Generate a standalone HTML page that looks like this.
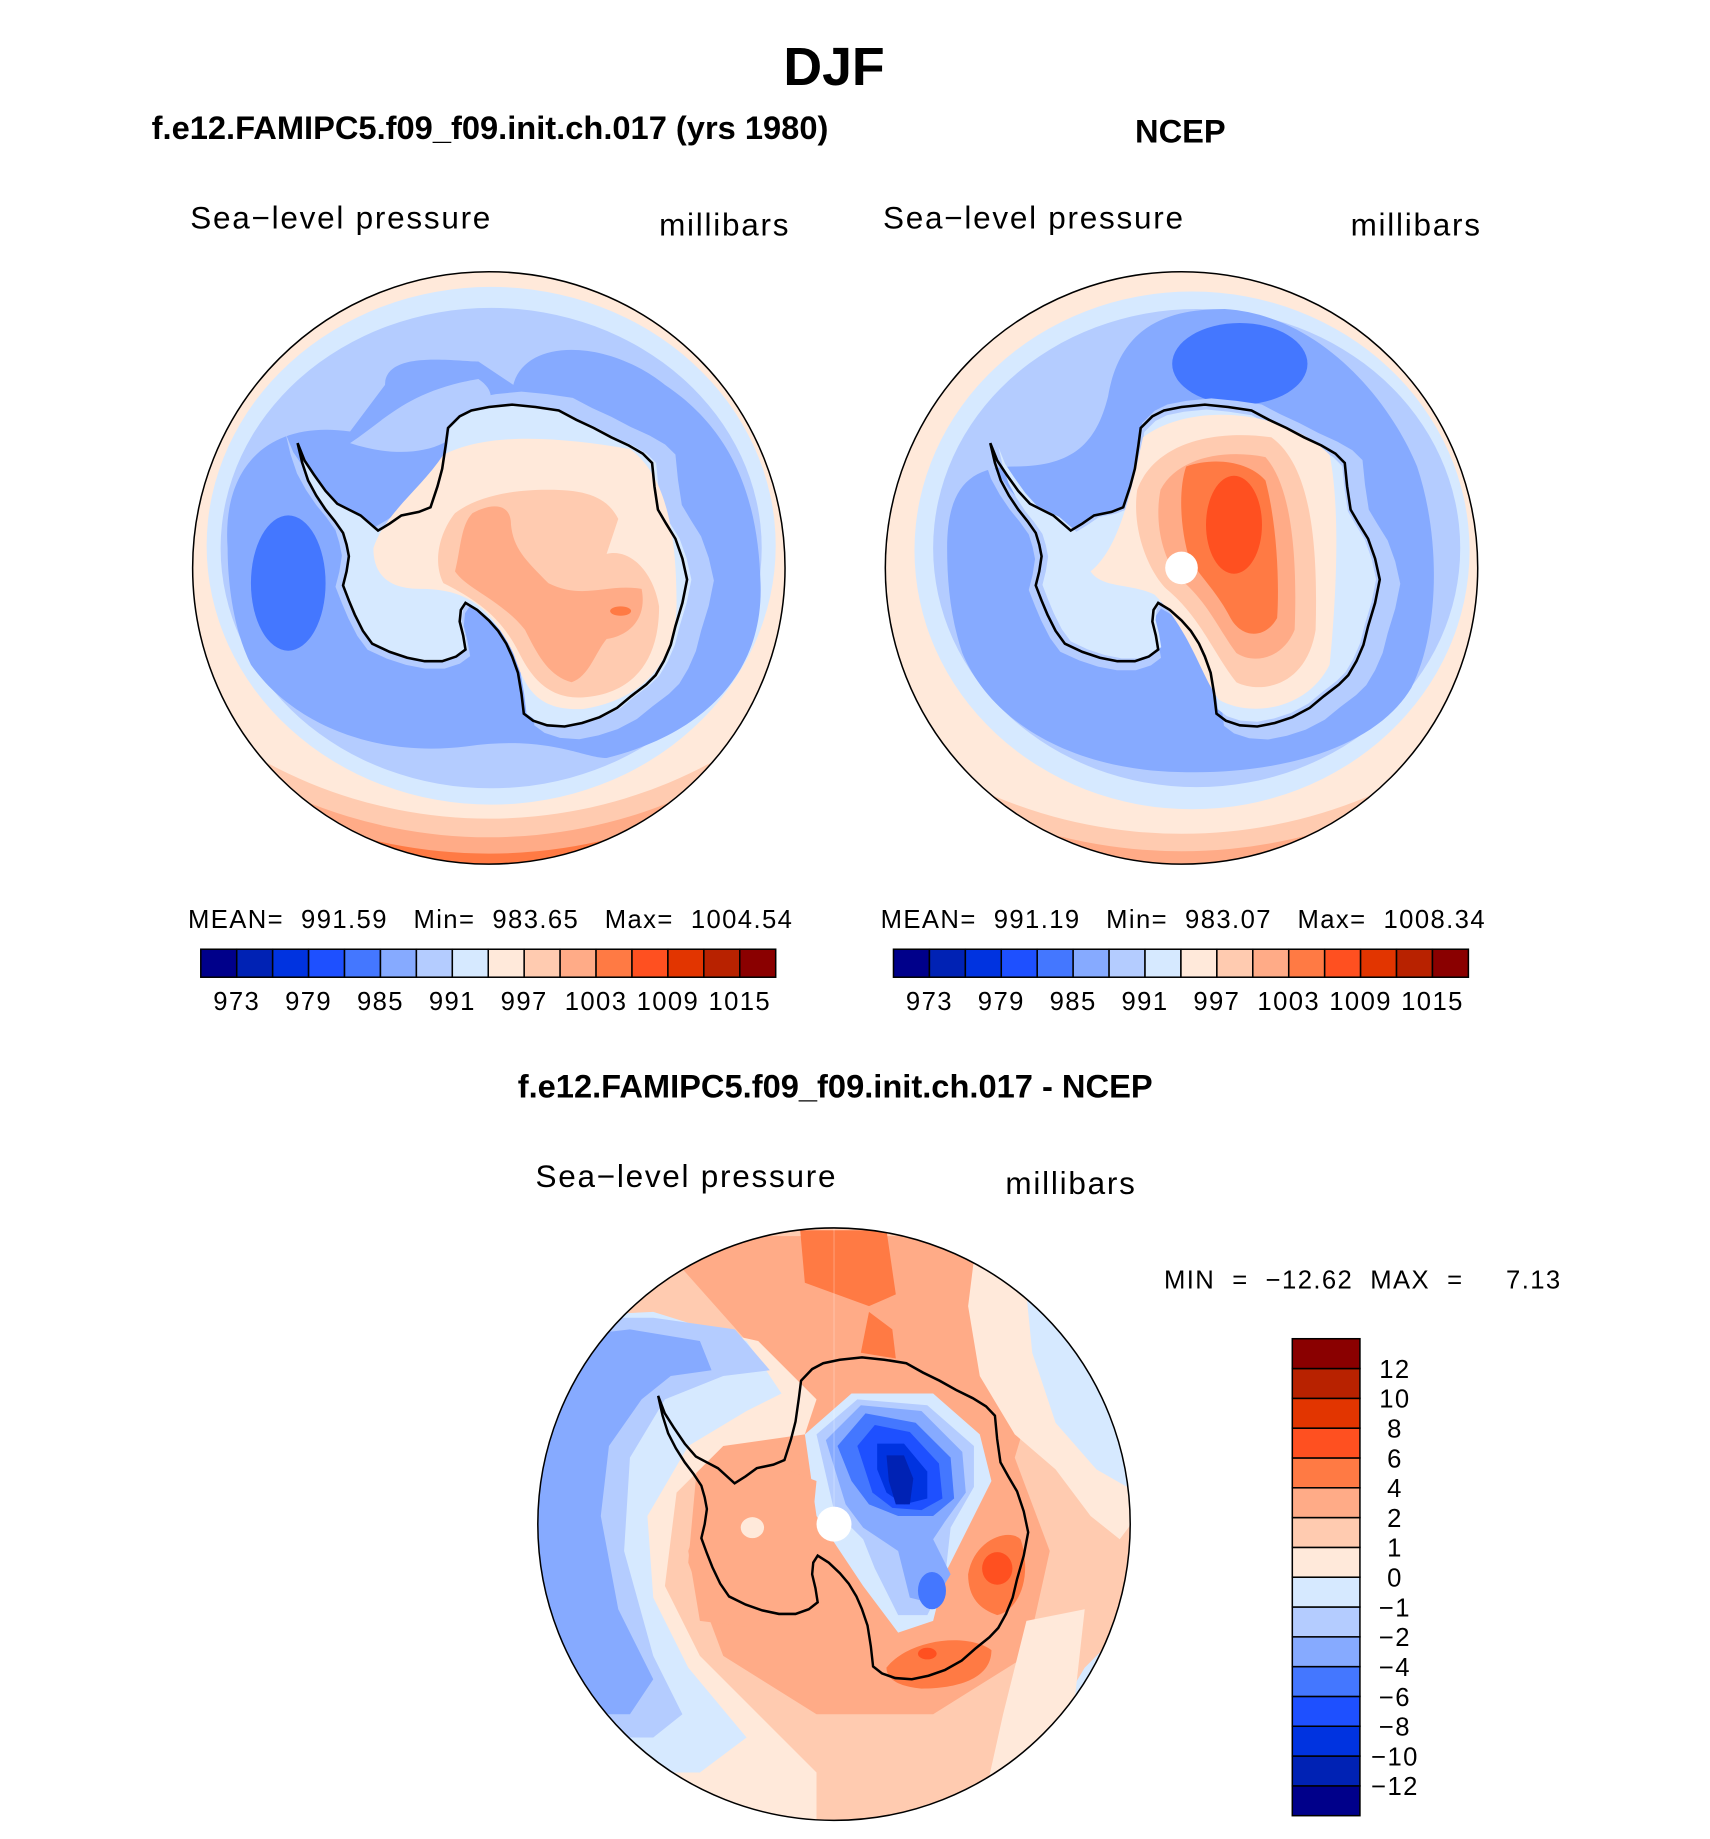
<!DOCTYPE html>
<html><head><meta charset="utf-8"><style>
html,body{margin:0;padding:0;background:#fff}
svg{display:block}
text{font-family:"Liberation Sans",sans-serif;fill:#000;white-space:pre}
.t{font-size:27px;letter-spacing:1.5px}
.s{font-size:22px;letter-spacing:1.2px}
.b{font-weight:bold}
</style></head><body>
<svg id="fig" width="1710" height="1839" viewBox="0 0 1466 1577" xmlns="http://www.w3.org/2000/svg" xml:space="preserve">
<defs>
<path id="coast" d="M-164,-107 L-158,-92 L-150,-80 L-140,-66 L-130,-55 L-120,-50 L-110,-45 L-95,-32 L-85,-38 L-75,-45 L-60,-48 L-50,-52 L-44,-70 L-40,-85 L-37,-105 L-35,-120 L-25,-130 L-15,-135 L0,-138 L20,-140 L40,-138 L60,-135 L75,-127 L90,-120 L105,-112 L120,-105 L132,-98 L140,-90 L142,-70 L145,-50 L152,-38 L160,-25 L166,-8 L170,10 L166,30 L160,50 L156,66 L150,80 L143,92 L135,100 L122,110 L110,120 L95,128 L80,133 L65,136 L50,135 L38,131 L30,125 L28,108 L25,90 L20,76 L15,65 L8,54 L0,45 L-10,36 L-20,30 L-24,36 L-25,46 L-22,58 L-20,70 L-28,76 L-40,80 L-55,80 L-70,77 L-85,72 L-100,65 L-108,54 L-115,40 L-120,28 L-125,15 L-122,3 L-120,-10 L-122,-20 L-125,-30 L-132,-40 L-140,-50 L-148,-62 L-155,-75 L-160,-90 Z"/>
<clipPath id="cl1"><circle cx="419" cy="487" r="254"/></clipPath>
<clipPath id="cl2"><circle cx="1013" cy="487" r="254"/></clipPath>
<clipPath id="cl3"><circle cx="715" cy="1307" r="254"/></clipPath>
</defs>

<text x="715" y="73" text-anchor="middle" class="b" font-size="46">DJF</text>
<text x="420" y="119" text-anchor="middle" class="b" font-size="28">f.e12.FAMIPC5.f09_f09.init.ch.017 (yrs 1980)</text>
<text x="1012" y="122" text-anchor="middle" class="b" font-size="28">NCEP</text>

<!-- LEFT MAP -->
<text x="163" y="196" class="t">Sea−level pressure</text>
<text x="565" y="202" class="t">millibars</text>
<g clip-path="url(#cl1)">
<rect x="160" y="230" width="520" height="520" fill="#ff7a44"/>
<circle cx="419" cy="300" r="432" fill="#ffab87"/>
<circle cx="419" cy="300" r="418" fill="#ffcbb0"/>
<circle cx="419" cy="300" r="402" fill="#ffe9da"/>
<ellipse cx="421" cy="468" rx="244" ry="222" fill="#d6e9ff"/>
<ellipse cx="421" cy="470" rx="232" ry="206" fill="#b4ccff"/>
<path d="M195,470 C190,400 230,360 300,370 L330,330 C330,300 390,310 410,310 L440,330 C450,290 520,290 570,330 C630,370 650,430 652,500 C655,580 600,630 520,650 C500,650 470,630 400,640 C320,650 250,620 215,570 C200,540 195,500 195,470 Z" fill="#86aaff"/>
<path d="M300,380 C330,360 350,335 410,325 C440,345 400,370 380,380 C360,390 330,390 300,380 Z" fill="#b4ccff"/>
<ellipse cx="247" cy="500" rx="32" ry="58" fill="#4477ff"/>
<use href="#coast" fill="#b4ccff" transform="translate(425,487) scale(1.1,1.08)"/>
<use href="#coast" fill="#d6e9ff" transform="translate(421,487) scale(1.01,1.0)"/>
<path d="M320,470 C330,440 360,420 380,390 C420,370 480,375 540,385 C575,410 580,470 580,520 C578,570 550,600 500,608 C460,610 450,590 440,560 C420,520 400,505 360,505 C330,505 320,490 320,470 Z" fill="#ffe9da"/>
<path d="M390,440 C410,425 440,420 470,420 C500,420 520,425 530,445 L520,475 C540,470 560,490 565,520 C565,570 540,595 500,598 C470,600 455,580 445,560 C430,530 410,515 380,500 C370,480 378,455 390,440 Z" fill="#ffcbb0"/>
<path d="M405,440 C420,432 438,430 438,450 C440,470 450,480 470,500 C500,515 520,500 550,505 C555,530 540,545 520,548 C510,560 505,580 490,585 C470,580 460,560 450,540 C430,515 400,505 390,490 C395,470 395,450 405,440 Z" fill="#ffab87"/>
<ellipse cx="532" cy="524" rx="9" ry="4" fill="#ff7a44"/>
<use href="#coast" fill="none" stroke="#000" stroke-width="2.2" transform="translate(419,487)"/>
</g>
<circle cx="419" cy="487" r="254" fill="none" stroke="#000" stroke-width="1.3"/>
<text x="161" y="796" class="s">MEAN=  991.59   Min=  983.65   Max=  1004.54</text>
<g id="cbL"></g>

<!-- RIGHT MAP -->
<text x="757" y="196" class="t">Sea−level pressure</text>
<text x="1158" y="202" class="t">millibars</text>
<g clip-path="url(#cl2)">
<rect x="750" y="230" width="520" height="520" fill="#ffab87"/>
<circle cx="1013" cy="300" r="430" fill="#ffcbb0"/>
<circle cx="1013" cy="300" r="415" fill="#ffe9da"/>
<ellipse cx="1022" cy="472" rx="238" ry="222" fill="#d6e9ff"/>
<ellipse cx="1026" cy="470" rx="226" ry="205" fill="#b4ccff"/>
<path d="M812,470 C812,420 830,400 870,400 C920,400 940,380 950,340 C960,280 1000,265 1050,265 C1130,270 1190,340 1215,400 C1235,460 1235,540 1210,590 C1180,640 1100,665 1010,662 C920,660 850,620 825,560 C815,530 812,500 812,470 Z" fill="#86aaff"/>
<ellipse cx="1063" cy="312" rx="58" ry="35" fill="#4477ff"/>
<use href="#coast" fill="#b4ccff" transform="translate(1017,490) scale(1.08,1.06)"/>
<use href="#coast" fill="#d6e9ff" transform="translate(1015,487) scale(0.97,0.97)"/>
<path d="M935,490 C960,470 970,420 980,375 C1020,345 1100,350 1140,390 C1150,440 1145,520 1140,570 C1120,610 1070,615 1045,600 C1030,580 1020,540 990,510 C970,500 945,505 935,490 Z" fill="#ffe9da"/>
<path d="M975,420 C990,380 1040,368 1090,375 C1125,400 1130,470 1128,540 C1120,590 1080,595 1060,585 C1040,560 1030,530 1000,505 C985,490 970,455 975,420 Z" fill="#ffcbb0"/>
<path d="M995,420 C1010,392 1050,385 1085,392 C1110,420 1112,490 1110,540 C1100,565 1075,570 1060,560 C1045,540 1035,515 1010,495 C995,475 990,445 995,420 Z" fill="#ffab87"/>
<path d="M1017,400 C1040,392 1070,395 1085,412 C1095,450 1097,500 1095,530 C1085,548 1065,548 1055,530 C1045,510 1030,495 1020,480 C1012,455 1010,420 1017,400 Z" fill="#ff7a44"/>
<ellipse cx="1058" cy="450" rx="24" ry="42" fill="#ff5020"/>
<use href="#coast" fill="none" stroke="#000" stroke-width="2.2" transform="translate(1013,487)"/>
</g>
<circle cx="1013" cy="487" r="14" fill="#fff"/>
<circle cx="1013" cy="487" r="254" fill="none" stroke="#000" stroke-width="1.3"/>
<text x="755" y="796" class="s">MEAN=  991.19   Min=  983.07   Max=  1008.34</text>
<g id="cbR"></g>

<!-- DIFFERENCE MAP -->
<text x="716" y="941" text-anchor="middle" class="b" font-size="28">f.e12.FAMIPC5.f09_f09.init.ch.017 - NCEP</text>
<text x="459" y="1018" class="t">Sea−level pressure</text>
<text x="862" y="1024" class="t">millibars</text>
<g clip-path="url(#cl3)">
<rect x="455" y="1050" width="520" height="520" fill="#ffcbb0"/>
<path d="M560,1060 L880,1060 L900,1150 L870,1250 L900,1330 L880,1420 L800,1470 L700,1470 L620,1420 L590,1340 L600,1230 L640,1150 Z" fill="#ffab87"/>
<path d="M686,1055 L760,1055 L768,1110 L745,1120 L690,1100 Z" fill="#ff7a44"/>
<path d="M745,1125 L765,1140 L768,1165 L738,1160 Z" fill="#ff7a44"/>
<path d="M835,1080 L880,1095 L910,1150 L930,1200 L960,1240 L975,1300 L960,1320 L935,1300 L905,1260 L870,1230 L840,1180 L830,1120 Z" fill="#ffe9da"/>
<path d="M880,1110 L920,1120 L960,1200 L975,1280 L940,1260 L905,1220 L885,1160 Z" fill="#d6e9ff"/>
<path d="M930,1430 L980,1380 L980,1560 L880,1560 L900,1480 Z" fill="#d6e9ff"/>
<path d="M880,1390 L930,1380 L920,1470 L880,1560 L840,1560 L860,1470 Z" fill="#ffe9da"/>
<path d="M455,1140 L560,1130 L650,1150 L700,1200 L690,1230 L620,1240 L580,1280 L570,1360 L600,1420 L660,1480 L700,1520 L700,1570 L455,1570 Z" fill="#ffe9da"/>
<path d="M455,1130 L560,1125 L640,1150 L670,1195 L640,1210 L590,1240 L555,1300 L560,1370 L590,1430 L640,1490 L600,1520 L455,1520 Z" fill="#d6e9ff"/>
<path d="M455,1130 L560,1130 L630,1140 L660,1175 L620,1180 L570,1200 L540,1250 L535,1330 L560,1420 L585,1470 L560,1490 L455,1490 Z" fill="#b4ccff"/>
<path d="M455,1150 L540,1140 L600,1150 L610,1175 L575,1180 L550,1200 L522,1240 L515,1300 L530,1380 L560,1440 L540,1470 L500,1470 L455,1460 Z" fill="#86aaff"/>
<path d="M690,1230 L730,1195 L800,1195 L840,1230 L850,1270 L830,1310 L810,1350 L800,1390 L770,1400 L740,1360 L720,1330 L700,1300 Z" fill="#d6e9ff"/>
<path d="M700,1230 L735,1200 L795,1205 L835,1240 L835,1275 L815,1310 L810,1355 L795,1385 L770,1385 L750,1345 L740,1320 L715,1295 Z" fill="#b4ccff"/>
<path d="M708,1235 L738,1205 L790,1210 L825,1245 L828,1280 L810,1305 L800,1320 L815,1350 L800,1375 L780,1370 L770,1330 L740,1310 L725,1290 Z" fill="#86aaff"/>
<path d="M718,1240 L742,1212 L785,1220 L815,1250 L818,1285 L800,1300 L770,1300 L745,1290 L730,1270 Z" fill="#4477ff"/>
<ellipse cx="799" cy="1364" rx="12" ry="16" fill="#4477ff"/>
<path d="M735,1240 L750,1222 L780,1228 L805,1255 L808,1285 L790,1295 L765,1293 L748,1280 Z" fill="#1e50ff"/>
<path d="M752,1238 L775,1238 L795,1262 L795,1285 L775,1290 L760,1280 L752,1260 Z" fill="#0033e0"/>
<path d="M760,1248 L775,1248 L783,1268 L780,1290 L768,1290 L762,1270 Z" fill="#0022b4"/>
<path d="M610,1270 L660,1255 L700,1270 L695,1320 L690,1370 L640,1395 L600,1390 L590,1330 Z" fill="#ffab87"/>
<ellipse cx="645" cy="1310" rx="10" ry="9" fill="#ffe9da"/>
<path d="M830,1350 C835,1320 865,1310 875,1320 C885,1350 875,1380 855,1385 C840,1380 830,1370 830,1350 Z" fill="#ff7a44"/>
<ellipse cx="855" cy="1345" rx="13" ry="14" fill="#ff5020"/>
<path d="M760,1430 C780,1405 830,1400 850,1415 C850,1440 820,1448 790,1448 C770,1446 760,1440 760,1430 Z" fill="#ff7a44"/>
<ellipse cx="795" cy="1418" rx="8" ry="5" fill="#ff5020"/>
<line x1="715" y1="1053" x2="715" y2="1300" stroke="#fff" stroke-opacity="0.25" stroke-width="1"/>
<use href="#coast" fill="none" stroke="#000" stroke-width="2.2" transform="translate(720,1304) scale(0.95,1)"/>
</g>
<circle cx="715" cy="1307" r="15" fill="#fff"/>
<circle cx="715" cy="1307" r="254" fill="none" stroke="#000" stroke-width="1.3"/>
<text x="998" y="1105" class="s">MIN  =  −12.62  MAX  =     7.13</text>
<g id="cbD"></g>
</svg>
<script>
const colors = ['#00008a','#0022b4','#0033e0','#1e50ff','#4477ff','#86aaff','#b4ccff','#d6e9ff','#ffe9da','#ffcbb0','#ffab87','#ff7a44','#ff5020','#e23500','#b82200','#8a0000'];
const slpTickLabels = ['973','979','985','991','997','1003','1009','1015'];
const diffTickLabels = ['−12','−10','−8','−6','−4','−2','−1','0','1','2','4','6','8','10','12'];
const NS = 'http://www.w3.org/2000/svg';
function mk(tag, attrs, parent){const e=document.createElementNS(NS,tag);for(const k in attrs)e.setAttribute(k,attrs[k]);parent.appendChild(e);return e;}
function hbar(id, x0, y0, w, h){
  const g=document.getElementById(id);
  const bw=w/colors.length;
  colors.forEach((c,i)=>{
    const r=mk('rect',{x:x0+i*bw,y:y0,width:bw,height:h,fill:c,stroke:'#000','stroke-width':1.3},g);
    
    
  });
  slpTickLabels.forEach((t,i)=>{
    const tx=mk('text',{x:x0+(1+2*i)*bw,y:y0+52,'text-anchor':'middle',class:'s'},g);
    tx.textContent=t;
    
    
  });
}
hbar('cbL',172,814,493,24);
hbar('cbR',766,814,493,24);
(function(){
  const g=document.getElementById('cbD');
  const x0=1108,y0=1148,w=58,h=409,bh=h/colors.length;
  colors.forEach((c,i)=>{
    const r=mk('rect',{x:x0,y:y0+h-(i+1)*bh,width:w,height:bh,fill:c,stroke:'#000','stroke-width':1.3},g);
    
    
  });
  diffTickLabels.forEach((t,i)=>{
    const tx=mk('text',{x:1196,y:y0+h-(i+1)*bh+8,'text-anchor':'middle',class:'s'},g);
    tx.textContent=t;
    
    
  });
})();
</script>
</body></html>
